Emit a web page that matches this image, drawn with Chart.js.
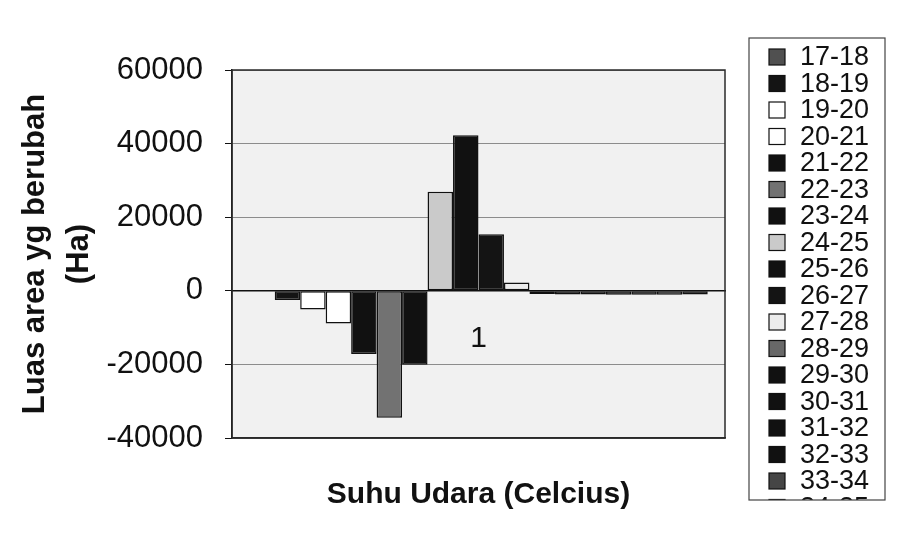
<!DOCTYPE html>
<html>
<head>
<meta charset="utf-8">
<script src="https://cdn.jsdelivr.net/npm/chart.js@4.4.1/dist/chart.umd.min.js"></script>
<style>
  html, body { margin: 0; padding: 0; background: #ffffff; }
  #wrap { width: 917px; height: 553px; position: relative; }
</style>
</head>
<body>
<div id="wrap"><canvas id="c"></canvas></div>
<script>
// ---- data ----
const categories = ['1'];
const seriesLabels = ['17-18','18-19','19-20','20-21','21-22','22-23','23-24','24-25','25-26',
                      '26-27','27-28','28-29','29-30','30-31','31-32','32-33','33-34','34-35'];
const seriesValues = [0, -2500, -5100, -8900, -17200, -34500, -20100, 26900, 42300,
                      15400, 2260, -900, -1000, -1000, -1100, -1100, -1100, -1000];
const yTickValues = [-40000, -20000, 0, 20000, 40000, 60000];
const yTitle = ['Luas area yg berubah', '(Ha)'];
const xTitle = 'Suhu Udara (Celcius)';

// ---- styles ----
const seriesColors = ['#505050','#141414','#ffffff','#ffffff','#111111','#727272','#111111','#cacaca','#111111',
                      '#141414','#ececec','#686868','#111111','#111111','#111111','#111111','#454545','#111111'];

const datasets = seriesLabels.map((lab, i) => ({
  label: lab,
  data: [seriesValues[i]],
  backgroundColor: seriesColors[i],
  borderColor: '#111111',
  borderWidth: 1.5,
  borderSkipped: false,
  categoryPercentage: 0.93,
  barPercentage: 1.0
}));

const plotDecor = {
  id: 'plotDecor',
  beforeDraw(chart) {
    const {ctx, chartArea: a} = chart;
    ctx.save();
    ctx.fillStyle = '#f1f1f1';
    ctx.fillRect(a.left, a.top, a.right - a.left, a.bottom - a.top);
    ctx.restore();
  },
  afterDatasetsDraw(chart) {
    const {ctx, chartArea: a} = chart;
    ctx.save();
    ctx.strokeStyle = '#2a2a2a';
    ctx.lineWidth = 1.5;
    ctx.strokeRect(a.left, a.top, a.right - a.left, a.bottom - a.top);
    ctx.restore();
  }
};

const boxLegend = {
  id: 'boxLegend',
  afterDraw(chart) {
    const ctx = chart.ctx;
    const L = 749, T = 38, R = 885, B = 500;
    ctx.save();
    ctx.fillStyle = '#ffffff';
    ctx.fillRect(L, T, R - L, B - T);
    ctx.beginPath();
    ctx.rect(L, T, R - L, B - T);
    ctx.clip();
    ctx.font = '27px "Liberation Sans", Arial, sans-serif';
    ctx.textBaseline = 'middle';
    ctx.textAlign = 'left';
    chart.data.datasets.forEach((ds, i) => {
      const cy = 57 + i * 26.5;
      ctx.fillStyle = ds.backgroundColor;
      ctx.fillRect(769, cy - 8, 16, 16);
      ctx.strokeStyle = '#111111';
      ctx.lineWidth = 1.2;
      ctx.strokeRect(769, cy - 8, 16, 16);
      ctx.fillStyle = '#111111';
      ctx.fillText(ds.label, 800, cy + 1);
    });
    ctx.restore();
    ctx.save();
    ctx.strokeStyle = '#444444';
    ctx.lineWidth = 1.2;
    ctx.strokeRect(L, T, R - L, B - T);
    ctx.restore();
  }
};

new Chart(document.getElementById('c'), {
  type: 'bar',
  data: { labels: categories, datasets },
  plugins: [plotDecor, boxLegend],
  options: {
    responsive: true,
    maintainAspectRatio: false,
    animation: false,
    layout: { padding: { left: 0, right: 192, top: 70, bottom: 0 } },
    plugins: { legend: { display: false }, tooltip: { enabled: false } },
    scales: {
      x: {
        type: 'category',
        position: 'bottom',
        grid: { display: false, drawTicks: false },
        ticks: { display: false },
        border: { display: true, color: '#2a2a2a', width: 1.5 },
        title: {
          display: true, text: xTitle, color: '#111111',
          font: { family: '"Liberation Sans", Arial, sans-serif', size: 30, weight: 'bold', lineHeight: 1.2 },
          padding: { top: 39, bottom: 40 }
        }
      },
      x0: {
        type: 'category',
        axis: 'x',
        labels: categories,
        position: { y: 0 },
        grid: { display: false, drawTicks: false },
        border: { display: true, color: '#111111', width: 1.5 },
        ticks: {
          color: '#111111', padding: 30,
          font: { family: '"Liberation Sans", Arial, sans-serif', size: 30 }
        }
      },
      y: {
        position: 'left',
        min: -40000, max: 60000,
        afterBuildTicks(scale) { scale.ticks = yTickValues.map(v => ({ value: v })); },
        afterFit(scale) { scale.width = 232; },
        grid: {
          color: '#8c8c8c', lineWidth: 1, drawTicks: true, tickLength: 7,
          tickColor: '#111111'
        },
        border: { display: true, color: '#111111', width: 1.5 },
        ticks: {
          color: '#111111', padding: 22,
          font: { family: '"Liberation Sans", Arial, sans-serif', size: 31 },
          callback: v => String(v)
        },
        title: {
          display: true, text: yTitle, color: '#111111',
          font: { family: '"Liberation Sans", Arial, sans-serif', size: 31, weight: 'bold', lineHeight: 1.45 },
          padding: { top: 12.5, bottom: 0 }
        }
      }
    }
  }
});
</script>
</body>
</html>
